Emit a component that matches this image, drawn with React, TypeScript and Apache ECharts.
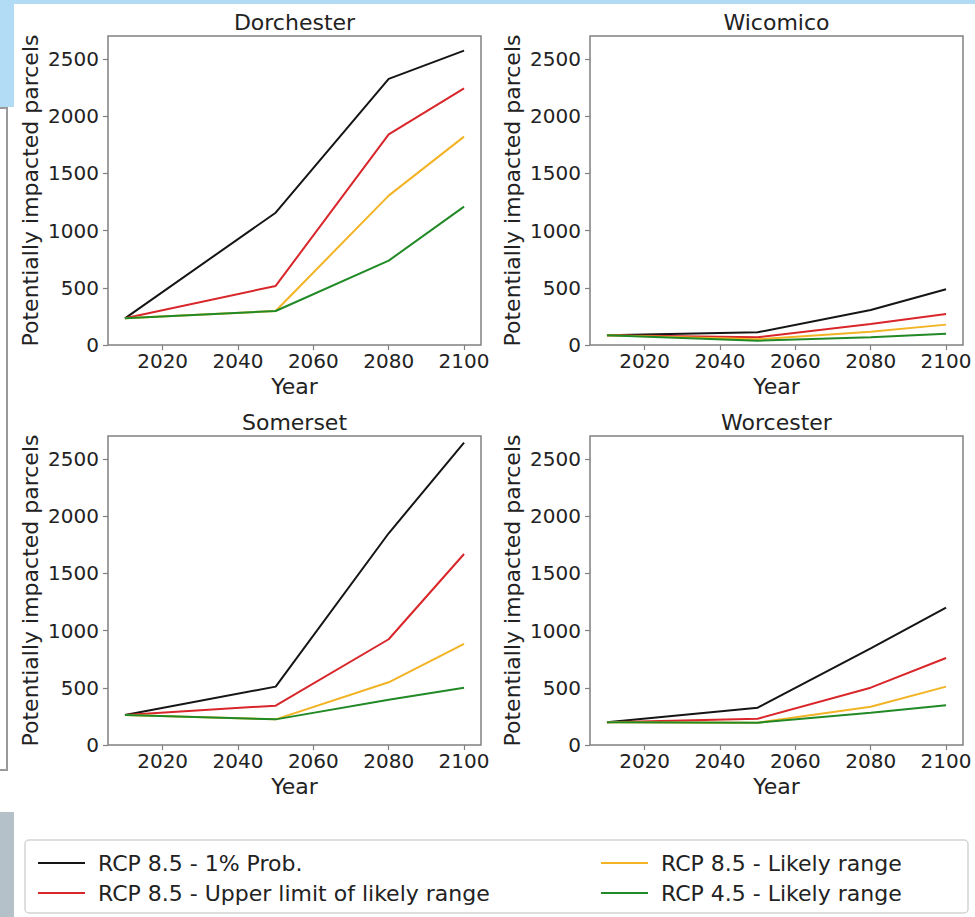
import React, { useEffect, useRef } from "react";
import * as echarts from "echarts";

const years = [2010, 2050, 2080, 2100];
const xTicks = [2020, 2040, 2060, 2080, 2100];
const yTicks = [0, 500, 1000, 1500, 2000, 2500];

const seriesNames = [
  "RCP 8.5 - 1% Prob.",
  "RCP 8.5 - Upper limit of likely range",
  "RCP 8.5 - Likely range",
  "RCP 4.5 - Likely range",
];
const seriesColors = ["#151515", "#d8262a", "#f2b324", "#218a26"];

const counties = ["Dorchester", "Wicomico", "Somerset", "Worcester"];

const dorchester = [
  [233, 1156, 2325, 2572],
  [233, 516, 1841, 2243],
  [233, 297, 1305, 1821],
  [233, 297, 737, 1209],
];
const wicomico = [
  [85, 111, 306, 487],
  [85, 67, 183, 271],
  [85, 50, 116, 178],
  [85, 38, 67, 99],
];
const somerset = [
  [262, 510, 1850, 2642],
  [262, 344, 924, 1669],
  [262, 224, 548, 883],
  [262, 224, 395, 501],
];
const worcester = [
  [198, 326, 845, 1200],
  [198, 230, 501, 760],
  [198, 195, 335, 510],
  [198, 195, 282, 347],
];

const countyData = [dorchester, wicomico, somerset, worcester];

const FONT = "'DejaVu Sans', sans-serif";
const SPINE = "#808080";
const TEXT = "#222222";

export default function App() {
  const ref = useRef<HTMLDivElement>(null);

  useEffect(() => {
    if (!ref.current) return;
    const chart = echarts.init(ref.current, undefined, { renderer: "svg" });

    const lefts = [108, 590];
    const tops = [36, 436];
    const W = 373;
    const H = 309;

    const grids: any[] = [];
    const xAxes: any[] = [];
    const yAxes: any[] = [];
    const series: any[] = [];
    const graphics: any[] = [];

    counties.forEach((name, i) => {
      const col = i % 2;
      const row = Math.floor(i / 2);
      grids.push({
        left: lefts[col],
        top: tops[row],
        width: W,
        height: H,
        show: true,
        borderColor: SPINE,
        borderWidth: 1.5,
        backgroundColor: "#ffffff",
        outerBoundsMode: "none",
        containLabel: false,
      });
      xAxes.push({
        gridIndex: i,
        type: "value",
        min: 2005.5,
        max: 2104.5,
        name: "Year",
        nameLocation: "middle",
        nameGap: 30,
        nameTextStyle: { fontSize: 22, color: TEXT, fontFamily: FONT },
        axisLine: { show: false },
        splitLine: { show: false },
        axisTick: {
          show: true,
          length: 5,
          customValues: xTicks,
          lineStyle: { color: SPINE, width: 1.2 },
        },
        axisLabel: {
          customValues: xTicks,
          formatter: (v: number) => String(v),
          fontSize: 20,
          color: TEXT,
          fontFamily: FONT,
          margin: 6,
        },
      });
      yAxes.push({
        gridIndex: i,
        type: "value",
        min: 0,
        max: 2700,
        name: "Potentially impacted parcels",
        nameLocation: "middle",
        nameGap: 67,
        nameTextStyle: { fontSize: 22, color: TEXT, fontFamily: FONT },
        axisLine: { show: false },
        splitLine: { show: false },
        axisTick: {
          show: true,
          length: 5,
          customValues: yTicks,
          lineStyle: { color: SPINE, width: 1.2 },
        },
        axisLabel: {
          customValues: yTicks,
          formatter: (v: number) => String(v),
          fontSize: 20,
          color: TEXT,
          fontFamily: FONT,
          margin: 9,
        },
      });
      countyData[i].forEach((vals, s) => {
        series.push({
          type: "line",
          name: seriesNames[s],
          xAxisIndex: i,
          yAxisIndex: i,
          symbol: "none",
          color: seriesColors[s],
          lineStyle: { color: seriesColors[s], width: 2 },
          data: years.map((y, k) => [y, vals[k]]),
          z: 2 + s,
        });
      });
      graphics.push({
        type: "text",
        x: lefts[col] + W / 2,
        y: tops[row] - 14,
        style: {
          text: name,
          fontSize: 22,
          fontFamily: FONT,
          fill: TEXT,
          align: "center",
          verticalAlign: "middle",
        },
      });
    });

    // decorative background fragments and legend frame
    graphics.unshift(
      { type: "rect", shape: { x: 0, y: 0, width: 975, height: 4 }, style: { fill: "#b2dbf5" }, z: -10 },
      { type: "rect", shape: { x: 0, y: 0, width: 14, height: 107 }, style: { fill: "#b2dbf5" }, z: -10 },
      {
        type: "polyline",
        shape: { points: [[0, 108], [7, 108], [7, 770], [0, 770]] },
        style: { stroke: "#9a9a9a", lineWidth: 2, fill: "none" },
        z: -10,
      },
      { type: "rect", shape: { x: 0, y: 812, width: 14, height: 105 }, style: { fill: "#b4c1c9" }, z: -10 },
      {
        type: "rect",
        shape: { x: 25, y: 840, width: 943, height: 73, r: 4 },
        style: { fill: "#ffffff", stroke: "#d4d4d4", lineWidth: 1.5 },
        z: -5,
      }
    );

    const legendCommon = {
      orient: "vertical",
      icon: "rect",
      itemWidth: 47,
      itemHeight: 2,
      itemGap: 8,
      textStyle: {
        fontSize: 22,
        color: TEXT,
        fontFamily: FONT,
        padding: [0, 0, 0, 8],
        lineHeight: 22,
      },
      z: 10,
    };

    chart.setOption({
      animation: false,
      backgroundColor: "#ffffff",
      grid: grids,
      xAxis: xAxes,
      yAxis: yAxes,
      series,
      legend: [
        { ...legendCommon, left: 33, top: 847, data: seriesNames.slice(0, 2) },
        { ...legendCommon, left: 596, top: 847, data: seriesNames.slice(2, 4) },
      ],
      graphic: graphics,
    });

    return () => chart.dispose();
  }, []);

  return (
    <div
      ref={ref}
      style={{ position: "absolute", left: 0, top: 0, width: 975, height: 917 }}
    />
  );
}
